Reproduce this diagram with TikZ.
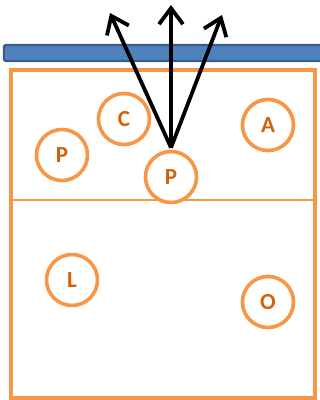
\documentclass[tikz,border=0pt]{standalone}
\usepackage{fontspec}
\setmainfont{Carlito}
\usetikzlibrary{arrows.meta}
\definecolor{courtor}{HTML}{F79646}
\definecolor{lettor}{HTML}{D2620A}
\definecolor{netfill}{HTML}{4F81BD}
\definecolor{netline}{HTML}{385D8A}
\begin{document}
\begin{tikzpicture}[x=1pt,y=-1pt,>={Straight Barb[length=16pt,width=24pt]},
  player/.style={circle,draw=courtor,line width=3.6pt,fill=white,minimum size=51pt,inner sep=0pt,
    text=lettor,font=\fontsize{23}{23}\selectfont\bfseries}]
\useasboundingbox (0,0) rectangle (320,400);
% court
\draw[courtor,line width=3.6pt] (11,70) rectangle (315,398);
\draw[courtor,line width=1.6pt] (11,200) -- (315,200);
% net
\draw[netline,fill=netfill,line width=2.4pt,rounded corners=1.5pt] (4,45) rectangle (325,61);
% players
\node[player] (pl) at (62,155) {P};
\node[player] (cc) at (124,119) {C};
\node[player] (aa) at (268,125) {A};
\node[player] (ll) at (72,280) {L};
\node[player] (oo) at (268,302) {O};
\node[player] (ps) at (171,177) {P};
% arrows
\coordinate (t1) at (110,13);
\coordinate (t2) at (171,5);
\coordinate (t3) at (222,15);
\foreach \t in {t1,t2,t3}
  \draw[->,line width=3.8pt,line join=round] ([yshift=2pt]ps.north) -- (\t);
\end{tikzpicture}
\end{document}
